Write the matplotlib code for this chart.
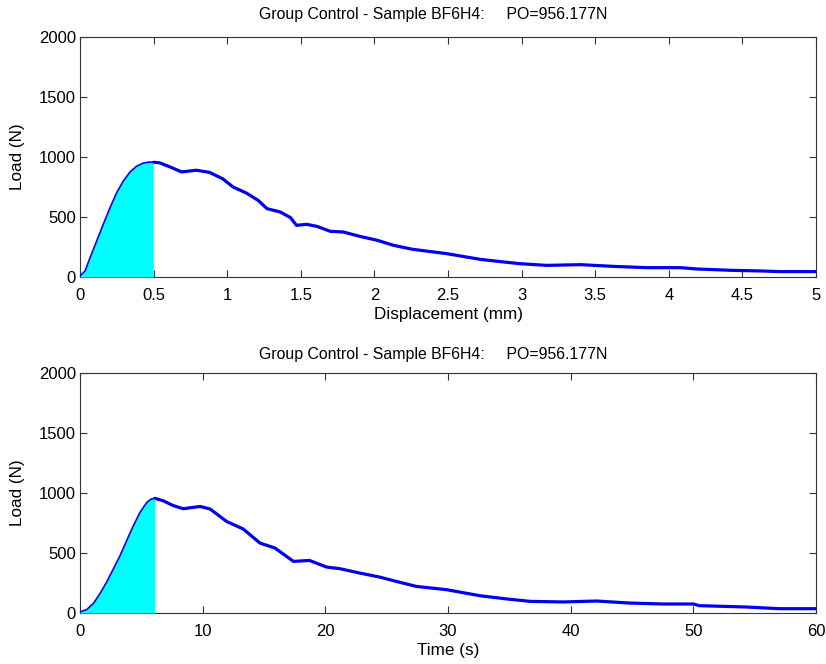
import numpy as np
import matplotlib
matplotlib.use("Agg")
import matplotlib.pyplot as plt

plt.rcParams['font.family'] = ['Liberation Sans', 'DejaVu Sans']

title = 'Group Control - Sample BF6H4:     PO=956.177N'

# load vs displacement
disp = [0, 0.034, 0.068, 0.113, 0.158, 0.204, 0.249, 0.294, 0.34, 0.385, 0.43, 0.47, 0.498,
        0.54, 0.61, 0.69, 0.79, 0.88, 0.97, 1.04, 1.13, 1.21, 1.27, 1.36, 1.43, 1.47,
        1.54, 1.61, 1.70, 1.79, 1.90, 2.02, 2.13, 2.26, 2.49, 2.72, 2.88, 2.99, 3.17,
        3.40, 3.62, 3.85, 4.08, 4.19, 4.42, 4.64, 4.76, 5.0]
load_d = [10, 50, 160, 300, 440, 578, 703, 800, 876, 924, 950, 958, 956,
          952, 918, 876, 890, 872, 818, 750, 700, 639, 570, 542, 495, 431,
          439, 422, 381, 375, 339, 306, 264, 231, 195, 147, 125, 111, 97,
          103, 89, 78, 78, 67, 56, 50, 45, 45]

# load vs time
time = [0, 0.54, 1.09, 1.63, 2.17, 2.72, 3.26, 3.8, 4.35, 4.89, 5.43, 5.8, 6.1,
        6.79, 7.6, 8.42, 9.78, 10.6, 11.95, 13.3, 14.67, 15.9, 17.4, 18.7, 20.1,
        21.2, 22.8, 24.4, 25.8, 27.4, 29.9, 32.6, 34.8, 36.7, 39.4, 42.1, 44.8,
        47.5, 50.0, 50.5, 54.3, 57.0, 60.0]
load_t = [10, 28, 80, 162, 258, 368, 478, 603, 728, 838, 920, 950, 956,
          935, 895, 869, 888, 867, 763, 700, 583, 541, 430, 438, 383,
          369, 333, 300, 263, 222, 194, 144, 117, 97, 92, 100, 83,
          75, 75, 61, 50, 36, 36]

disp_peak = 0.498
time_peak = 6.1


def draw(ax, x, y, xpeak, xmax, xticks, xlabel, title_pad):
    x = np.array(x)
    y = np.array(y)
    m = x <= xpeak
    after = x >= xpeak
    ax.plot(x[after], y[after], color='#0000ee', lw=2.3, zorder=2,
            solid_joinstyle='round', solid_capstyle='round')
    ax.fill_between(x[m], 0, y[m], color='#00ffff', lw=0, zorder=3)
    ax.plot(x[m], y[m], color='#0000ee', lw=1.2, zorder=4)
    ax.set_xlim(0, xmax)
    ax.set_ylim(0, 2000)
    ax.set_xticks(xticks)
    ax.set_xticklabels([f'{t:g}' for t in xticks])
    ax.set_yticks([0, 500, 1000, 1500, 2000])
    ax.tick_params(direction='in', top=True, right=True, length=5, labelsize=12,
                   color='#333333', pad=3)
    ax.tick_params(axis='x', pad=8)
    for s in ax.spines.values():
        s.set_color('#333333')
        s.set_linewidth(0.8)
    ax.set_title(title, fontsize=11.4, pad=title_pad, x=0.4805)
    ax.set_xlabel(xlabel, fontsize=12.3, labelpad=3)
    ax.set_ylabel('Load (N)', fontsize=12.3, labelpad=10)


fig = plt.figure(figsize=(8.26, 6.64), dpi=100)
ax1 = fig.add_axes([0.0969, 0.5828, 0.891, 0.3614])
ax2 = fig.add_axes([0.0969, 0.0768, 0.891, 0.3614])

draw(ax1, disp, load_d, disp_peak, 5, [0, 0.5, 1, 1.5, 2, 2.5, 3, 3.5, 4, 4.5, 5],
     'Displacement (mm)', 13)
draw(ax2, time, load_t, time_peak, 60, [0, 10, 20, 30, 40, 50, 60], 'Time (s)', 10)

fig.savefig('out.png', dpi=100)
